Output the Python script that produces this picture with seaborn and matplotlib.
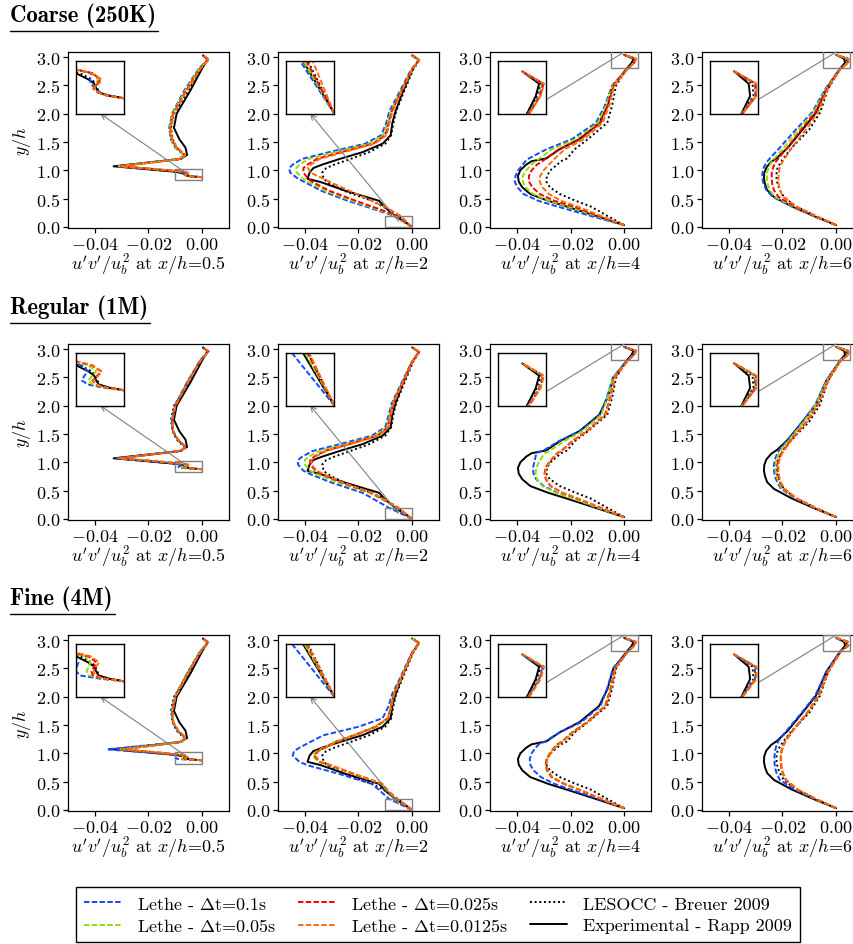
import matplotlib
matplotlib.use("Agg")
import matplotlib.pyplot as plt
import pandas as pd
import seaborn as sns
from matplotlib.lines import Line2D
from matplotlib.patches import Rectangle
from matplotlib.ticker import FuncFormatter, FixedLocator

# ---------------- data ----------------
MESHES = ["Coarse (250K)", "Regular (1M)", "Fine (4M)"]
STATIONS = ["0.5", "2", "4", "6"]
SERIES = ["Lethe - $\\Delta$t=0.1s", "Lethe - $\\Delta$t=0.05s",
          "Lethe - $\\Delta$t=0.025s", "Lethe - $\\Delta$t=0.0125s",
          "LESOCC - Breuer 2009", "Experimental - Rapp 2009"]

# x/h = 0.5
Y_X05 = [0.878, 0.888, 0.900, 0.915, 0.935, 0.950, 0.973, 1.02, 1.07, 1.20, 1.27, 1.40, 1.55, 1.75, 2.00, 2.40, 2.80, 2.96, 3.03]
EXP_X05 = [0.0, -0.0031, -0.0053, -0.0058, -0.0063, -0.0075, -0.0100, -0.0210, -0.0330, -0.0082, -0.0056, -0.0062, -0.0085, -0.0105, -0.0095, -0.0045, 0.0, 0.0020, 0.0003]
LES_X05 = [0.0, -0.0035, -0.0050, -0.0056, -0.0060, -0.0068, -0.0092, -0.0200, -0.0315, -0.0078, -0.0066, -0.0095, -0.0110, -0.0116, -0.0105, -0.0052, -0.0005, 0.0022, 0.0003]
C_X05_DT1 = [0.0, -0.0035, -0.0050, -0.0060, -0.0070, -0.0071, -0.0068, -0.0180, -0.0313, -0.0085, -0.0068, -0.0100, -0.0117, -0.0123, -0.0112, -0.0068, -0.0012, 0.0022, 0.0003]
C_X05_DT2 = [0.0, -0.0035, -0.0055, -0.0062, -0.0058, -0.0055, -0.0065, -0.0178, -0.0310, -0.0083, -0.0066, -0.0098, -0.0115, -0.0121, -0.0110, -0.0064, -0.0010, 0.0023, 0.0003]
C_X05_DT3 = [0.0, -0.0035, -0.0055, -0.0064, -0.0055, -0.0050, -0.0066, -0.0176, -0.0308, -0.0081, -0.0064, -0.0096, -0.0113, -0.0119, -0.0108, -0.0061, -0.0008, 0.0024, 0.0003]
C_X05_DT4 = [0.0, -0.0035, -0.0055, -0.0065, -0.0052, -0.0047, -0.0069, -0.0174, -0.0305, -0.0079, -0.0062, -0.0094, -0.0111, -0.0117, -0.0106, -0.0058, -0.0005, 0.0026, 0.0003]
R_X05_DT1 = [0.0, -0.0045, -0.0075, -0.0088, -0.0082, -0.0075, -0.0090, -0.0185, -0.0320, -0.0082, -0.0062, -0.0092, -0.0110, -0.0113, -0.0102, -0.0058, -0.0008, 0.0022, 0.0003]
R_X05_DT2 = [0.0, -0.0040, -0.0065, -0.0075, -0.0065, -0.0058, -0.0075, -0.0178, -0.0312, -0.0081, -0.0061, -0.0091, -0.0109, -0.0112, -0.0101, -0.0057, -0.0007, 0.0023, 0.0003]
R_X05_DT3 = [0.0, -0.0038, -0.0058, -0.0066, -0.0055, -0.0048, -0.0068, -0.0175, -0.0310, -0.0080, -0.0060, -0.0090, -0.0108, -0.0111, -0.0100, -0.0055, -0.0006, 0.0024, 0.0003]
R_X05_DT4 = [0.0, -0.0038, -0.0058, -0.0065, -0.0053, -0.0047, -0.0066, -0.0173, -0.0308, -0.0079, -0.0059, -0.0089, -0.0107, -0.0110, -0.0099, -0.0054, -0.0005, 0.0025, 0.0003]
F_X05_DT1 = [0.0, -0.0050, -0.0090, -0.0100, -0.0098, -0.0095, -0.0105, -0.0220, -0.0355, -0.0082, -0.0062, -0.0092, -0.0110, -0.0113, -0.0102, -0.0058, -0.0008, 0.0022, 0.0003]
F_X05_DT2 = [0.0, -0.0045, -0.0072, -0.0078, -0.0074, -0.0070, -0.0082, -0.0180, -0.0305, -0.0081, -0.0061, -0.0091, -0.0109, -0.0112, -0.0101, -0.0057, -0.0007, 0.0023, 0.0003]
F_X05_DT3 = [0.0, -0.0042, -0.0065, -0.0068, -0.0062, -0.0058, -0.0075, -0.0177, -0.0300, -0.0080, -0.0060, -0.0090, -0.0108, -0.0111, -0.0100, -0.0055, -0.0006, 0.0024, 0.0003]
F_X05_DT4 = [0.0, -0.0040, -0.0060, -0.0064, -0.0058, -0.0052, -0.0070, -0.0174, -0.0298, -0.0079, -0.0059, -0.0089, -0.0107, -0.0110, -0.0099, -0.0054, -0.0005, 0.0025, 0.0003]

# x/h = 2
Y_X2 = [0.0, 0.2, 0.34, 0.46, 0.64, 0.79, 0.85, 0.96, 1.04, 1.10, 1.20, 1.32, 1.47, 1.62, 1.83, 2.04, 2.36, 2.77, 2.95, 3.03]
EXP_X2 = [0.0, -0.0065, -0.0100, -0.0123, -0.0250, -0.0340, -0.0390, -0.0382, -0.0368, -0.0335, -0.0270, -0.0185, -0.0110, -0.0080, -0.0074, -0.0062, -0.0037, 0.0, 0.0025, 0.0]
LES_X2 = [0.0, -0.0055, -0.0100, -0.0150, -0.0255, -0.0315, -0.0330, -0.0335, -0.0320, -0.0290, -0.0230, -0.0160, -0.0100, -0.0078, -0.0070, -0.0060, -0.0033, 0.0003, 0.0027, 0.0]
C_X2_DT1 = [0.0, -0.0071, -0.0160, -0.0240, -0.0340, -0.0400, -0.0425, -0.0455, -0.0458, -0.0445, -0.0410, -0.0310, -0.0175, -0.0115, -0.0097, -0.0085, -0.0050, -0.0005, 0.0025, 0.0]
C_X2_DT2 = [0.0, -0.0064, -0.0148, -0.0225, -0.0325, -0.0385, -0.0405, -0.0430, -0.0432, -0.0420, -0.0385, -0.0290, -0.0160, -0.0108, -0.0092, -0.0080, -0.0047, -0.0003, 0.0025, 0.0]
C_X2_DT3 = [0.0, -0.0058, -0.0138, -0.0210, -0.0310, -0.0370, -0.0388, -0.0405, -0.0405, -0.0390, -0.0355, -0.0265, -0.0145, -0.0100, -0.0088, -0.0076, -0.0044, -0.0002, 0.0026, 0.0]
C_X2_DT4 = [0.0, -0.0045, -0.0095, -0.0150, -0.0235, -0.0305, -0.0330, -0.0380, -0.0388, -0.0378, -0.0345, -0.0255, -0.0140, -0.0095, -0.0085, -0.0073, -0.0042, -0.0001, 0.0027, 0.0]
R_X2_DT1 = [0.0, -0.0088, -0.0140, -0.0185, -0.0300, -0.0380, -0.0405, -0.0425, -0.0425, -0.0410, -0.0370, -0.0270, -0.0150, -0.0100, -0.0088, -0.0076, -0.0044, -0.0002, 0.0025, 0.0]
R_X2_DT2 = [0.0, -0.0060, -0.0110, -0.0160, -0.0275, -0.0355, -0.0380, -0.0400, -0.0400, -0.0385, -0.0345, -0.0250, -0.0138, -0.0094, -0.0084, -0.0073, -0.0042, -0.0001, 0.0026, 0.0]
R_X2_DT3 = [0.0, -0.0055, -0.0105, -0.0152, -0.0262, -0.0335, -0.0360, -0.0380, -0.0380, -0.0365, -0.0325, -0.0235, -0.0128, -0.0090, -0.0080, -0.0070, -0.0040, 0.0, 0.0026, 0.0]
R_X2_DT4 = [0.0, -0.0052, -0.0102, -0.0150, -0.0258, -0.0330, -0.0355, -0.0375, -0.0375, -0.0360, -0.0320, -0.0230, -0.0125, -0.0088, -0.0079, -0.0069, -0.0039, 0.0, 0.0027, 0.0]
F_X2_DT1 = [0.0, -0.0088, -0.0120, -0.0150, -0.0275, -0.0390, -0.0420, -0.0445, -0.0440, -0.0420, -0.0380, -0.0330, -0.0200, -0.0110, -0.0088, -0.0075, -0.0042, -0.0002, 0.0025, 0.0]
F_X2_DT2 = [0.0, -0.0062, -0.0095, -0.0115, -0.0225, -0.0310, -0.0350, -0.0370, -0.0355, -0.0330, -0.0290, -0.0220, -0.0140, -0.0092, -0.0080, -0.0070, -0.0040, 0.0, 0.0026, 0.0]
F_X2_DT3 = [0.0, -0.0058, -0.0092, -0.0112, -0.0220, -0.0305, -0.0345, -0.0365, -0.0350, -0.0325, -0.0285, -0.0215, -0.0135, -0.0090, -0.0078, -0.0068, -0.0038, 0.0, 0.0026, 0.0]
F_X2_DT4 = [0.0, -0.0056, -0.0090, -0.0110, -0.0218, -0.0302, -0.0342, -0.0362, -0.0348, -0.0322, -0.0282, -0.0212, -0.0133, -0.0089, -0.0077, -0.0067, -0.0037, 0.0, 0.0027, 0.0]

# x/h = 4
Y_X4 = [0.03, 0.20, 0.36, 0.46, 0.58, 0.70, 0.80, 0.90, 1.00, 1.10, 1.16, 1.21, 1.37, 1.55, 1.84, 2.14, 2.50, 2.80, 2.90, 2.97, 3.04]
EXP_X4 = [0.0, -0.0110, -0.0215, -0.0283, -0.0350, -0.0380, -0.0393, -0.0396, -0.0387, -0.0365, -0.0345, -0.0290, -0.0241, -0.0167, -0.0093, -0.0062, -0.0040, 0.0010, 0.0028, 0.0035, 0.0]
LES_X4 = [0.0, -0.0065, -0.0125, -0.0180, -0.0240, -0.0277, -0.0290, -0.0288, -0.0275, -0.0250, -0.0235, -0.0212, -0.0185, -0.0135, -0.0063, -0.0045, -0.0030, 0.0010, 0.0030, 0.0038, 0.0]
C_X4_DT1 = [0.0, -0.0130, -0.0250, -0.0320, -0.0375, -0.0398, -0.0408, -0.0405, -0.0395, -0.0378, -0.0368, -0.0355, -0.0290, -0.0195, -0.0105, -0.0072, -0.0045, 0.0012, 0.0035, 0.0042, 0.0]
C_X4_DT2 = [0.0, -0.0110, -0.0210, -0.0280, -0.0340, -0.0368, -0.0378, -0.0378, -0.0365, -0.0345, -0.0330, -0.0315, -0.0270, -0.0180, -0.0097, -0.0068, -0.0043, 0.0013, 0.0036, 0.0043, 0.0]
C_X4_DT3 = [0.0, -0.0100, -0.0190, -0.0260, -0.0315, -0.0342, -0.0355, -0.0355, -0.0345, -0.0325, -0.0305, -0.0290, -0.0245, -0.0162, -0.0088, -0.0062, -0.0040, 0.0014, 0.0037, 0.0044, 0.0]
C_X4_DT4 = [0.0, -0.0090, -0.0175, -0.0235, -0.0280, -0.0305, -0.0315, -0.0313, -0.0300, -0.0280, -0.0268, -0.0258, -0.0222, -0.0150, -0.0080, -0.0056, -0.0037, 0.0015, 0.0038, 0.0045, 0.0]
R_X4_DT1 = [0.0, -0.0100, -0.0190, -0.0250, -0.0300, -0.0328, -0.0338, -0.0340, -0.0335, -0.0330, -0.0328, -0.0300, -0.0245, -0.0165, -0.0090, -0.0065, -0.0042, 0.0012, 0.0035, 0.0042, 0.0]
R_X4_DT2 = [0.0, -0.0100, -0.0192, -0.0255, -0.0305, -0.0325, -0.0330, -0.0328, -0.0318, -0.0305, -0.0295, -0.0275, -0.0225, -0.0155, -0.0085, -0.0062, -0.0040, 0.0013, 0.0036, 0.0043, 0.0]
R_X4_DT3 = [0.0, -0.0090, -0.0175, -0.0230, -0.0275, -0.0292, -0.0297, -0.0293, -0.0280, -0.0262, -0.0250, -0.0232, -0.0195, -0.0140, -0.0072, -0.0052, -0.0035, 0.0014, 0.0037, 0.0044, 0.0]
R_X4_DT4 = [0.0, -0.0090, -0.0175, -0.0230, -0.0273, -0.0290, -0.0295, -0.0291, -0.0278, -0.0260, -0.0248, -0.0230, -0.0193, -0.0138, -0.0070, -0.0050, -0.0034, 0.0015, 0.0038, 0.0045, 0.0]
F_X4_DT1 = [0.0, -0.0100, -0.0200, -0.0260, -0.0310, -0.0338, -0.0350, -0.0352, -0.0345, -0.0330, -0.0318, -0.0295, -0.0240, -0.0160, -0.0088, -0.0064, -0.0042, 0.0012, 0.0035, 0.0042, 0.0]
F_X4_DT2 = [0.0, -0.0088, -0.0170, -0.0225, -0.0272, -0.0289, -0.0293, -0.0290, -0.0278, -0.0262, -0.0250, -0.0232, -0.0195, -0.0140, -0.0072, -0.0052, -0.0035, 0.0013, 0.0036, 0.0043, 0.0]
F_X4_DT3 = [0.0, -0.0088, -0.0170, -0.0224, -0.0270, -0.0287, -0.0292, -0.0288, -0.0276, -0.0260, -0.0248, -0.0230, -0.0193, -0.0138, -0.0070, -0.0050, -0.0034, 0.0014, 0.0037, 0.0044, 0.0]
F_X4_DT4 = [0.0, -0.0087, -0.0168, -0.0222, -0.0268, -0.0285, -0.0290, -0.0286, -0.0274, -0.0258, -0.0246, -0.0228, -0.0191, -0.0136, -0.0068, -0.0048, -0.0033, 0.0015, 0.0038, 0.0045, 0.0]

# x/h = 6
Y_X6 = [0.03, 0.18, 0.36, 0.53, 0.65, 0.75, 0.85, 0.95, 1.05, 1.15, 1.22, 1.40, 1.72, 2.02, 2.44, 2.80, 2.90, 2.97, 3.04]
EXP_X6 = [0.0, -0.0078, -0.0165, -0.0232, -0.0257, -0.0265, -0.0269, -0.0268, -0.0260, -0.0242, -0.0220, -0.0180, -0.0125, -0.0075, -0.0037, 0.0015, 0.0033, 0.0030, 0.0]
LES_X6 = [0.0, -0.0070, -0.0150, -0.0195, -0.0210, -0.0218, -0.0222, -0.0222, -0.0218, -0.0205, -0.0195, -0.0165, -0.0100, -0.0060, -0.0030, 0.0016, 0.0040, 0.0038, 0.0]
C_X6_DT1 = [0.0, -0.0075, -0.0165, -0.0236, -0.0260, -0.0270, -0.0275, -0.0275, -0.0270, -0.0258, -0.0245, -0.0210, -0.0150, -0.0090, -0.0040, 0.0015, 0.0043, 0.0043, 0.0]
C_X6_DT2 = [0.0, -0.0073, -0.0160, -0.0228, -0.0248, -0.0255, -0.0258, -0.0258, -0.0252, -0.0240, -0.0228, -0.0195, -0.0140, -0.0085, -0.0037, 0.0016, 0.0044, 0.0044, 0.0]
C_X6_DT3 = [0.0, -0.0072, -0.0155, -0.0215, -0.0232, -0.0238, -0.0240, -0.0240, -0.0235, -0.0225, -0.0213, -0.0182, -0.0130, -0.0078, -0.0034, 0.0017, 0.0045, 0.0045, 0.0]
C_X6_DT4 = [0.0, -0.0070, -0.0148, -0.0198, -0.0210, -0.0214, -0.0215, -0.0214, -0.0210, -0.0200, -0.0190, -0.0165, -0.0112, -0.0068, -0.0030, 0.0018, 0.0046, 0.0046, 0.0]
R_X6_DT1 = [0.0, -0.0072, -0.0152, -0.0205, -0.0220, -0.0228, -0.0232, -0.0232, -0.0228, -0.0220, -0.0212, -0.0180, -0.0125, -0.0078, -0.0037, 0.0015, 0.0043, 0.0043, 0.0]
R_X6_DT2 = [0.0, -0.0072, -0.0150, -0.0200, -0.0215, -0.0222, -0.0226, -0.0226, -0.0222, -0.0214, -0.0205, -0.0175, -0.0120, -0.0075, -0.0035, 0.0016, 0.0044, 0.0044, 0.0]
R_X6_DT3 = [0.0, -0.0071, -0.0148, -0.0195, -0.0210, -0.0215, -0.0218, -0.0218, -0.0214, -0.0205, -0.0196, -0.0168, -0.0110, -0.0068, -0.0031, 0.0017, 0.0045, 0.0045, 0.0]
R_X6_DT4 = [0.0, -0.0070, -0.0146, -0.0192, -0.0207, -0.0212, -0.0215, -0.0215, -0.0211, -0.0202, -0.0193, -0.0165, -0.0108, -0.0066, -0.0030, 0.0018, 0.0046, 0.0046, 0.0]
F_X6_DT1 = [0.0, -0.0072, -0.0155, -0.0210, -0.0222, -0.0228, -0.0230, -0.0230, -0.0227, -0.0222, -0.0215, -0.0185, -0.0128, -0.0078, -0.0037, 0.0015, 0.0043, 0.0043, 0.0]
F_X6_DT2 = [0.0, -0.0070, -0.0145, -0.0188, -0.0200, -0.0205, -0.0207, -0.0207, -0.0204, -0.0197, -0.0190, -0.0163, -0.0108, -0.0066, -0.0030, 0.0016, 0.0044, 0.0044, 0.0]
F_X6_DT3 = [0.0, -0.0070, -0.0144, -0.0187, -0.0199, -0.0204, -0.0206, -0.0206, -0.0203, -0.0196, -0.0189, -0.0162, -0.0107, -0.0065, -0.0030, 0.0017, 0.0045, 0.0045, 0.0]
F_X6_DT4 = [0.0, -0.0069, -0.0143, -0.0186, -0.0198, -0.0203, -0.0205, -0.0205, -0.0202, -0.0195, -0.0188, -0.0161, -0.0106, -0.0064, -0.0029, 0.0018, 0.0046, 0.0046, 0.0]

Y_LEVELS = [Y_X05, Y_X2, Y_X4, Y_X6]
EXP = [EXP_X05, EXP_X2, EXP_X4, EXP_X6]
LES = [LES_X05, LES_X2, LES_X4, LES_X6]
LETHE = [
    [[C_X05_DT1, C_X05_DT2, C_X05_DT3, C_X05_DT4], [C_X2_DT1, C_X2_DT2, C_X2_DT3, C_X2_DT4],
     [C_X4_DT1, C_X4_DT2, C_X4_DT3, C_X4_DT4], [C_X6_DT1, C_X6_DT2, C_X6_DT3, C_X6_DT4]],
    [[R_X05_DT1, R_X05_DT2, R_X05_DT3, R_X05_DT4], [R_X2_DT1, R_X2_DT2, R_X2_DT3, R_X2_DT4],
     [R_X4_DT1, R_X4_DT2, R_X4_DT3, R_X4_DT4], [R_X6_DT1, R_X6_DT2, R_X6_DT3, R_X6_DT4]],
    [[F_X05_DT1, F_X05_DT2, F_X05_DT3, F_X05_DT4], [F_X2_DT1, F_X2_DT2, F_X2_DT3, F_X2_DT4],
     [F_X4_DT1, F_X4_DT2, F_X4_DT3, F_X4_DT4], [F_X6_DT1, F_X6_DT2, F_X6_DT3, F_X6_DT4]],
]

# ---------------- style ----------------
COLORS = ["#1448ff", "#8fe000", "#f80000", "#ff6a10", "black", "black"]
DASH_PATTERNS = [(2.8, 1.2), (2.8, 1.2), (2.8, 1.2), (2.8, 1.2), (1, 1.4), ""]
PALETTE = dict(zip(SERIES, COLORS))
DASHES = dict(zip(SERIES, DASH_PATTERNS))
DRAW_ORDER = [SERIES[4], SERIES[5], SERIES[0], SERIES[1], SERIES[2], SERIES[3]]

sns.set_theme(style="ticks", context="paper")
plt.rcParams.update({
    "font.family": "serif",
    "font.serif": ["cmr10"],
    "mathtext.fontset": "cm",
    "axes.unicode_minus": False,
    "axes.edgecolor": "black",
    "axes.linewidth": 0.9,
    "xtick.color": "black",
    "ytick.color": "black",
    "xtick.major.width": 0.9,
    "ytick.major.width": 0.9,
    "xtick.major.size": 3.5,
    "ytick.major.size": 3.5,
    "text.color": "black",
    "axes.labelcolor": "black",
})
FS = 13
LW = 1.4

INSET_LIMS = [((-0.01, 0.0), (0.82, 1.02)), ((-0.01, 0.0), (0.0, 0.2)),
              ((-0.005, 0.005), (2.8, 3.1)), ((-0.005, 0.005), (2.8, 3.1))]

fig = plt.figure(figsize=(8.54, 9.45), dpi=100)
ROW_BOTTOMS = [0.7577, 0.4487, 0.1407]
COL_LEFTS = [0.0796, 0.3255, 0.5738, 0.822]
W, H = 0.1885, 0.1862


def panel_frame(j, lethe):
    rows = []
    ys = Y_LEVELS[j]
    for name, xs in zip(SERIES, lethe + [LES[j], EXP[j]]):
        for xv, yv in zip(xs, ys):
            rows.append({"x": xv, "y": yv, "series": name})
    return pd.DataFrame(rows)


def draw(ax, df, lw):
    sns.lineplot(data=df, x="x", y="y", hue="series", style="series",
                 hue_order=DRAW_ORDER, style_order=DRAW_ORDER,
                 palette=PALETTE, dashes=DASHES, sort=False, estimator=None,
                 legend=False, linewidth=lw, ax=ax)


tick_fmt_x = FuncFormatter(lambda v, p: "$%.2f$" % v if abs(v) > 1e-9 else "$0.00$")
tick_fmt_y = FuncFormatter(lambda v, p: "$%.1f$" % v)

title_texts = []
for i, mesh in enumerate(MESHES):
    for j, st in enumerate(STATIONS):
        ax = fig.add_axes([COL_LEFTS[j], ROW_BOTTOMS[i], W, H])
        df = panel_frame(j, LETHE[i][j])
        draw(ax, df, LW)
        ax.set_xlim(-0.05, 0.01)
        ax.set_ylim(-0.02, 3.09)
        ax.xaxis.set_major_locator(FixedLocator([-0.04, -0.02, 0.0]))
        ax.yaxis.set_major_locator(FixedLocator([0.0, 0.5, 1.0, 1.5, 2.0, 2.5, 3.0]))
        ax.xaxis.set_major_formatter(tick_fmt_x)
        ax.yaxis.set_major_formatter(tick_fmt_y)
        ax.tick_params(labelsize=FS, pad=2)
        ax.set_xlabel("$u'v'/u_b^2$ at $x/h$=" + st, fontsize=FS, labelpad=0)
        if j == 0:
            ax.set_ylabel("$y/h$", fontsize=FS, labelpad=2)
        else:
            ax.set_ylabel("")

        # zoom rectangle and inset
        (x0, x1), (y0, y1) = INSET_LIMS[j]
        ax.add_patch(Rectangle((x0, y0), x1 - x0, y1 - y0, fill=False,
                               edgecolor="gray", linewidth=1.0, zorder=5))
        ins = ax.inset_axes([0.05, 0.65, 0.30, 0.30])
        draw(ins, df, LW)
        ins.set_xlim(x0, x1)
        ins.set_ylim(y0, y1)
        ins.set_xticks([])
        ins.set_yticks([])
        ins.set_xlabel("")
        ins.set_ylabel("")
        for s in ins.spines.values():
            s.set_linewidth(1.0)
            s.set_edgecolor("black")
        if j < 2:
            ax.annotate("", xy=(0.20, 0.65), xycoords="axes fraction",
                        xytext=((x0 + x1) / 2, (y0 + y1) / 2), textcoords="data",
                        arrowprops=dict(arrowstyle="->", color="gray", lw=0.8,
                                        shrinkA=0, shrinkB=0))
        else:
            ax.annotate("", xy=(0.35, 0.73), xycoords="axes fraction",
                        xytext=(0.0, 3.09), textcoords="data",
                        arrowprops=dict(arrowstyle="-", color="gray", lw=0.8,
                                        shrinkA=0, shrinkB=0))

    t = fig.text(10 / 854, ROW_BOTTOMS[i] + H + 31 / 945, mesh,
                 family="cmb10", fontsize=16.5, ha="left", va="baseline")
    title_texts.append(t)

# underline titles
fig.canvas.draw()
renderer = fig.canvas.get_renderer()
for t in title_texts:
    bb = t.get_window_extent(renderer).transformed(fig.transFigure.inverted())
    yline = bb.y0 - 4 / 945
    fig.add_artist(Line2D([bb.x0, bb.x1 + 2 / 854], [yline, yline],
                          transform=fig.transFigure, color="black", lw=1.0))

# legend
handles = []
for name in SERIES:
    d = DASHES[name]
    h = Line2D([], [], color=PALETTE[name], lw=LW,
               linestyle="-" if d == "" else (0, d))
    handles.append(h)
leg = fig.legend(handles, SERIES, loc="center", bbox_to_anchor=(0.513, 0.0312),
                 ncol=3, frameon=True, fancybox=False, edgecolor="black",
                 framealpha=1, fontsize=FS, handlelength=2.0, handletextpad=0.9,
                 columnspacing=1.25, borderpad=0.45, labelspacing=0.3)
leg.get_frame().set_linewidth(1.0)

fig.savefig("out.png", dpi=100)
